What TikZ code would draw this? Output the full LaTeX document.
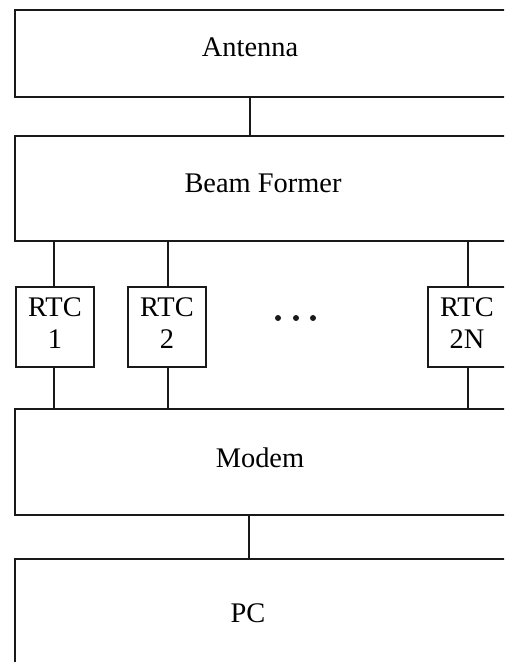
\documentclass[tikz,border=0pt]{standalone}
\usepackage{fontspec}
\setmainfont{Liberation Serif}
\usetikzlibrary{fit}
\begin{document}
\begin{tikzpicture}[x=0.5pt,y=-0.5pt,
  box/.style={draw=black!90, line width=1.1pt, inner sep=0pt, outer sep=0pt, rectangle},
  lbl/.style={font=\fontsize{14.2}{16}\selectfont, inner sep=0pt, outer sep=0pt},
  wire/.style={draw=black!90, line width=1.1pt}]
\useasboundingbox (0,0) rectangle (504,662);
\clip (0,0) rectangle (504,662);
% boxes
\node[box, fit={(15,10) (530,97)}] (ant) {};
\node[box, fit={(15,136) (530,241)}] (bf) {};
\node[box, fit={(16,287) (94,367)}] (r1) {};
\node[box, fit={(128,287) (206,367)}] (r2) {};
\node[box, fit={(428,287) (506,367)}] (rn) {};
\node[box, fit={(15,409) (530,515)}] (modem) {};
\node[box, fit={(15,559) (530,720)}] (pc) {};
% labels
\node[lbl, anchor=base] (tant) at (250,57) {Antenna};
\node[lbl, anchor=base] (tbf) at (263,193) {Beam Former};
\node[lbl, anchor=base] (tmodem) at (260,467) {Modem};
\node[lbl, anchor=base] (tpc) at (248,622) {PC};
\node[lbl, align=center] (tr1) at (55,323.5) {RTC\\1};
\node[lbl, align=center] (tr2) at (167,323.5) {RTC\\2};
\node[lbl, align=center] (trn) at (467,323.5) {RTC\\2N};
% dots
\fill[black!90] (278,318) circle (3);
\fill[black!90] (296,318) circle (3);
\fill[black!90] (313,318) circle (3);
% connectors
\coordinate (cA) at (250,0);
\coordinate (cM) at (249,0);
\coordinate (x1) at (54,0);
\coordinate (x2) at (168,0);
\coordinate (xn) at (468,0);
\draw[wire] (ant.south -| cA) -- (bf.north -| cA);
\draw[wire] (bf.south -| x1) -- (r1.north -| x1);
\draw[wire] (bf.south -| x2) -- (r2.north -| x2);
\draw[wire] (bf.south -| xn) -- (rn.north -| xn);
\draw[wire] (r1.south -| x1) -- (modem.north -| x1);
\draw[wire] (r2.south -| x2) -- (modem.north -| x2);
\draw[wire] (rn.south -| xn) -- (modem.north -| xn);
\draw[wire] (modem.south -| cM) -- (pc.north -| cM);
\end{tikzpicture}
\end{document}
